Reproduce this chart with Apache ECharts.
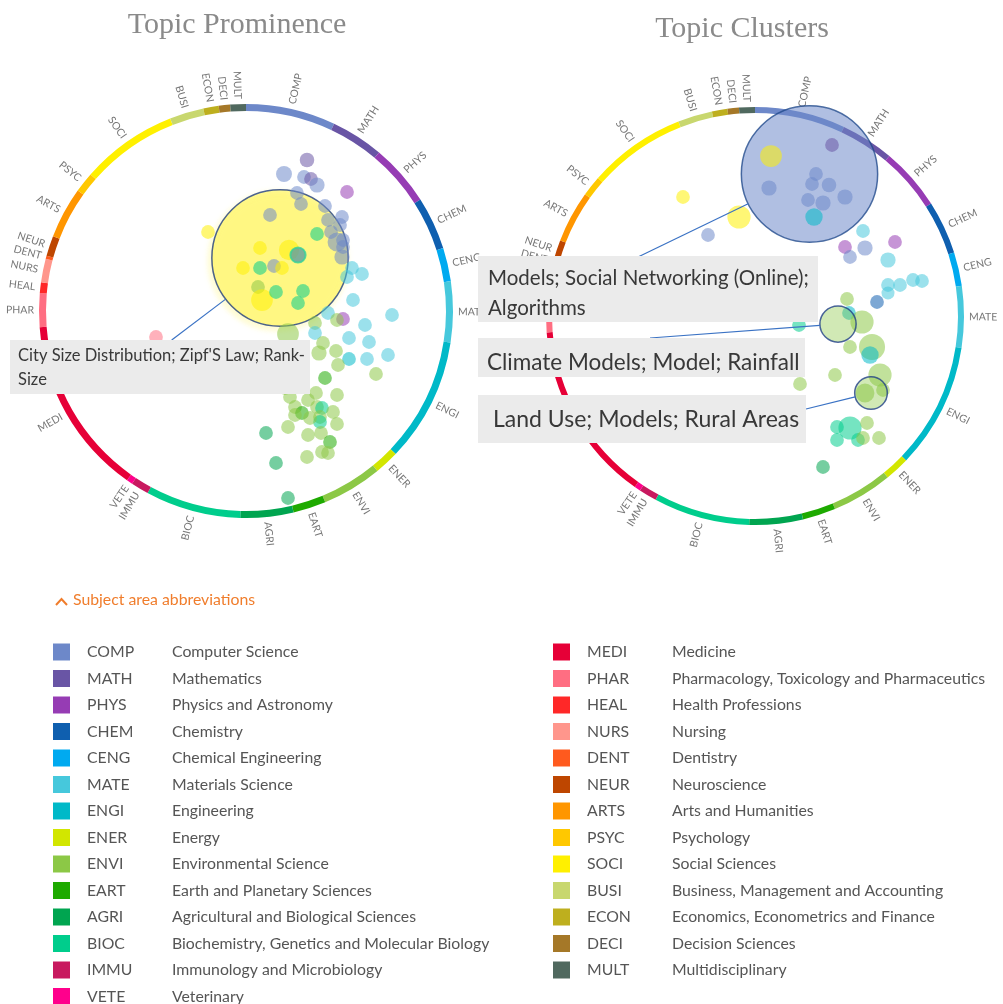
<!DOCTYPE html>
<html><head><meta charset="utf-8">
<script src="https://cdn.jsdelivr.net/npm/echarts@6/dist/echarts.min.js"></script>
<style>html,body{margin:0;padding:0;background:#fff}#c{width:1003px;height:1004px}</style>
</head><body><div id="c"></div>
<script>
// ---------------- data ----------------
const subjects = ['COMP','MATH','PHYS','CHEM','CENG','MATE','ENGI','ENER','ENVI','EART','AGRI','BIOC','IMMU','VETE',
  'MEDI','PHAR','HEAL','NURS','DENT','NEUR','ARTS','PSYC','SOCI','BUSI','ECON','DECI','MULT'];
const subjectNames = ['Computer Science','Mathematics','Physics and Astronomy','Chemistry','Chemical Engineering',
  'Materials Science','Engineering','Energy','Environmental Science','Earth and Planetary Sciences',
  'Agricultural and Biological Sciences','Biochemistry, Genetics and Molecular Biology','Immunology and Microbiology','Veterinary',
  'Medicine','Pharmacology, Toxicology and Pharmaceutics','Health Professions','Nursing','Dentistry','Neuroscience',
  'Arts and Humanities','Psychology','Social Sciences','Business, Management and Accounting',
  'Economics, Econometrics and Finance','Decision Sciences','Multidisciplinary'];
const subjectColors = ['#6d88c9','#6955a5','#963cb4','#0f5faf','#00aaf0','#46c8dc','#00b9c8','#d2e600','#8cc846','#1eaa00',
  '#00a550','#00cd8c','#c8195f','#ff008c','#e60037','#ff6e82','#ff2828','#ff968c','#ff5a1e','#be4600','#ff9600','#ffc800',
  '#fff000','#c8d76e','#beaf1e','#a57828','#50695f'];
// share of the outer ring (degrees)
const arcShares = [25.2,14.8,17.4,14.9,9.4,17.1,34.9,6.9,16.9,9.2,14.9,26.8,5.0,1.7,
  50.4,9.5,3.0,6.6,0.9,5.7,14.4,5.7,27.2,9.6,4.3,3.2,4.4];

// bubbles: [x, y, prominence, subject]
const prominenceFocus = [[34,53,9.4,'SOCI']];
const prominenceSelected = [[52,56,1.05,'ENGI']];
const prominenceBubbles = [
 [61,151,1.0,'MATH'],[38,137,1.1,'COMP'],[58,134,0.95,'COMP'],[65,132,0.95,'MATH'],[71,126,1.05,'COMP'],
 [101,119,0.95,'PHYS'],[51,118,0.95,'COMP'],[55,107,0.95,'COMP'],[24,96,0.95,'COMP'],[79,105,0.95,'COMP'],
 [96,94,0.95,'COMP'],[82,91,0.95,'COMP'],[94,86,0.95,'COMP'],[71,77,0.95,'BIOC'],[85,79,0.95,'COMP'],
 [91,69,1.3,'COMP'],[97,71,0.95,'COMP'],[96,54,1.05,'COMP'],[97,64,0.95,'COMP'],[-38,79,0.95,'SOCI'],
 [14,63,0.95,'SOCI'],[43,61,1.4,'SOCI'],[-3,43,0.95,'SOCI'],[14,43,0.95,'BIOC'],[28,45,0.95,'COMP'],
 [36,43,0.95,'SOCI'],[12,24,0.95,'ENVI'],[16,11,1.5,'SOCI'],[30,19,0.95,'BIOC'],[57,20,0.95,'BIOC'],
 [52,8,0.95,'BIOC'],[106,43,0.95,'MATE'],[116,37,0.95,'MATE'],[101,34,0.95,'MATE'],[107,11,0.95,'MATE'],
 [146,-4,0.95,'MATE'],[97,-8,0.95,'PHYS'],[82,-2,0.95,'MATE'],[91,-9,0.95,'ENVI'],[69,-12,0.95,'ENVI'],
 [42,-23,1.5,'ENVI'],[119,-14,0.95,'MATE'],[69,-22,0.95,'MATE'],[103,-27,0.95,'MATE'],[123,-31,0.95,'MATE'],
 [77,-32,0.95,'ENVI'],[73,-42,1.05,'ENVI'],[90,-40,0.95,'ENVI'],[103,-48,0.95,'ENGI'],[121,-48,0.95,'MATE'],
 [142,-44,0.95,'MATE'],[130,-63,0.95,'ENVI'],[92,-54,0.95,'ENVI'],[79,-67,0.95,'EART'],[70,-82,0.95,'ENVI'],
 [91,-84,0.95,'ENVI'],[44,-86,0.95,'ENVI'],[39,-77,0.95,'ENVI'],[49,-96,0.95,'ENVI'],[56,-102,0.95,'EART'],
 [62,-89,0.95,'ENVI'],[71,-96,0.95,'ENVI'],[76,-97,0.95,'BIOC'],[87,-101,0.95,'ENVI'],[74,-106,0.95,'ENVI'],
 [74,-111,0.95,'BIOC'],[64,-107,0.95,'ENVI'],[49,-104,0.95,'ENVI'],[42,-116,0.95,'ENVI'],[91,-113,0.95,'ENVI'],
 [62,-124,0.95,'ENVI'],[75,-122,0.95,'ENVI'],[84,-131,0.95,'EART'],[76,-141,0.95,'ENVI'],[82,-142,0.95,'ENVI'],
 [61,-146,0.95,'ENVI'],[20,-122,0.95,'AGRI'],[30,-152,0.95,'AGRI'],[42,-187,0.95,'AGRI'],[-90,-26,0.95,'PHAR']
];
const clusterFocus = [[54.5,142,9.4,'COMP'],[83,-8,2.5,'ENVI'],[116,-77,2.25,'ENVI']];
const clusterBubbles = [
 [16,160,1.5,'SOCI'],[77,171,0.95,'MATH'],[61,142,0.95,'COMP'],[57,132,0.95,'COMP'],[74,131,1.0,'COMP'],
 [14,128,1.05,'COMP'],[53,116,0.95,'COMP'],[68,113,1.05,'COMP'],[90,119,1.05,'COMP'],[59,99,1.2,'ENGI'],
 [-72,119,0.95,'SOCI'],[-16,99,1.6,'SOCI'],[-47,81,0.95,'COMP'],[108,85,0.95,'MATE'],[90,69,0.95,'PHYS'],
 [110,68,1.05,'COMP'],[95,59,0.95,'COMP'],[140,74,0.95,'PHYS'],[133,56,1.05,'MATE'],[133,31,0.95,'MATE'],
 [145,31,0.95,'MATE'],[158,36,0.95,'MATE'],[167,35,0.95,'MATE'],[133,23,0.9,'MATE'],[122,14,0.95,'CHEM'],
 [92,17,0.95,'ENVI'],[94,3,0.95,'ENGI'],[107,-6,1.6,'ENVI'],[95,-31,0.95,'ENVI'],[117,-31,1.8,'ENVI'],
 [115,-39,1.2,'ENGI'],[44,-9,0.95,'BIOC'],[80,-59,0.95,'ENVI'],[45,-68,0.95,'ENVI'],[125,-59,1.6,'ENVI'],
 [110,-77,1.3,'ENVI'],[128,-74,0.95,'ENVI'],[82,-111,0.95,'BIOC'],[95,-112,1.6,'BIOC'],[112,-107,0.95,'ENVI'],
 [82,-124,0.95,'BIOC'],[103,-124,0.95,'BIOC'],[108,-122,0.95,'ENVI'],[124,-122,0.95,'ENVI'],[68,-151,0.95,'AGRI']
];
const titles = ['Topic Prominence','Topic Clusters'];
const prominenceCallout = ["City Size Distribution; Zipf'S Law; Rank-\nSize"];
const clusterCallouts = ['Models; Social Networking (Online);\nAlgorithms','Climate Models; Model; Rainfall','Land Use; Models; Rural Areas'];
const legendHeading = 'Subject area abbreviations';

// ---------------- chart ----------------
const chart = echarts.init(document.getElementById('c'));
const FONT = 'Lato';
const SIZE_UNIT = 14.5;
const colorOf = {}, nameOf = {};
subjects.forEach((s,i)=>{colorOf[s]=subjectColors[i]; nameOf[s]=subjectNames[i];});
function rgba(hex,a){const n=parseInt(hex.slice(1),16);return 'rgba('+(n>>16&255)+','+(n>>8&255)+','+(n&255)+','+a+')';}
function bubbleData(list, alpha, extra){
  return list.map(b=>({value:[b[0],b[1],b[2]], itemStyle:Object.assign({color:rgba(colorOf[b[3]],alpha)}, extra||{})}));
}
function ring(center, radius){
  return {type:'pie', center, radius, startAngle:90, silent:true, z:1, avoidLabelOverlap:false,
    data: subjects.map((s,i)=>({name:s, value:arcShares[i], itemStyle:{color:subjectColors[i]}})),
    label:{show:true, position:'outside', rotate:'radial', distanceToLabelLine:0, fontSize:10.5, color:'#777', fontFamily:FONT},
    labelLine:{show:false, length:5, length2:0}, emphasis:{disabled:true}};
}
function bubbles(g, data, z){
  return {type:'scatter', xAxisIndex:g, yAxisIndex:g, data, z, symbolSize:v=>v[2]*SIZE_UNIT, silent:true, emphasis:{disabled:true}};
}
const axisCommon = {type:'value', min:-200, max:200, show:false};
const legendCommon = {orient:'vertical', icon:'rect', itemWidth:17, itemHeight:17, itemGap:9.5, padding:0, height:400,
  selectedMode:false,
  formatter: n => '{a|'+n+'}{b|'+nameOf[n]+'}',
  textStyle:{rich:{
    a:{width:85, padding:[0,0,0,12], fontSize:15.8, lineHeight:17, color:'#555', fontFamily:FONT},
    b:{fontSize:15.8, lineHeight:17, color:'#555', fontFamily:FONT}}}};

const option = {
  animation:false,
  grid:[{left:46, top:111, width:400, height:400},{left:555, top:116, width:400, height:400}],
  xAxis:[Object.assign({gridIndex:0},axisCommon),Object.assign({gridIndex:1},axisCommon)],
  yAxis:[Object.assign({gridIndex:0},axisCommon),Object.assign({gridIndex:1},axisCommon)],
  legend:[Object.assign({data:subjects.slice(0,14), left:53, top:643.5}, legendCommon),
          Object.assign({data:subjects.slice(14), left:553, top:643.5}, legendCommon)],
  series:[
    ring([246,311],[200,207]),
    ring([755,316],[203,209]),
    bubbles(0, bubbleData(prominenceFocus,0.48,{borderColor:'#1f3c7a',borderWidth:1.5,
      shadowBlur:6, shadowOffsetX:-2, shadowOffsetY:3, shadowColor:'rgba(255,240,0,0.45)'}), 2),
    bubbles(0, bubbleData(prominenceBubbles,0.68), 3),
    bubbles(0, prominenceSelected.map(b=>({value:[b[0],b[1],b[2]], itemStyle:{color:'#5f9ea0',borderColor:'#35d39a',borderWidth:2}})), 4),
    bubbles(1, bubbleData(clusterFocus.slice(0,1),0.68,{borderColor:'#214a8c',borderWidth:1.5}), 2),
    bubbles(1, bubbleData(clusterBubbles,0.68), 3),
    bubbles(1, bubbleData(clusterFocus.slice(1),0.5,{borderColor:'#1f3f86',borderWidth:1.5}), 4)
  ]
};
chart.setOption(option);

// ---- annotations (titles, callout boxes, leader lines) ----
function edgePoint(g, b, toward){
  const c = chart.convertToPixel({gridIndex:g},[b[0],b[1]]);
  const r = b[2]*SIZE_UNIT/2;
  const dx = toward[0]-c[0], dy = toward[1]-c[1], d = Math.hypot(dx,dy);
  return [c[0]+dx/d*r, c[1]+dy/d*r];
}
function box(x,y,w,h,text,tx,ty,fs,lh){
  return [
    {type:'rect', z:100, shape:{x,y,width:w,height:h}, style:{fill:'#ebebeb'}},
    {type:'text', z:101, x:tx, y:ty, style:{text, font:fs+'px '+FONT, lineHeight:lh, fill:'#383838', textVerticalAlign:'top'}}
  ];
}
function leader(anchor, g, b){
  const p = edgePoint(g,b,anchor);
  return {type:'line', z:99, shape:{x1:anchor[0],y1:anchor[1],x2:p[0],y2:p[1]}, style:{stroke:'#3a72c4', lineWidth:1.2}};
}
const graphics = [
  {type:'text', x:237, y:25, style:{text:titles[0], font:'30px "Liberation Serif"', fill:'#8a8a8a', textAlign:'center', textVerticalAlign:'middle'}},
  {type:'text', x:742, y:29, style:{text:titles[1], font:'30px "Liberation Serif"', fill:'#8a8a8a', textAlign:'center', textVerticalAlign:'middle'}},
  {type:'polyline', shape:{points:[[56,605],[61.5,599],[67,605]]}, style:{stroke:'#f07d2c', lineWidth:2, fill:null}},
  {type:'text', x:73, y:600, style:{text:legendHeading, font:'15.8px '+FONT, fill:'#f07d2c', textVerticalAlign:'middle'}},
  leader([171.7,340], 0, prominenceFocus[0]),
  leader([638,257], 1, clusterFocus[0]),
  leader([650,338], 1, clusterFocus[1]),
  leader([806,409], 1, clusterFocus[2]),
  ...box(10,340,300,54, prominenceCallout[0], 18,344, 16.5, 24),
  ...box(478,256,340,66, clusterCallouts[0], 488,263.5, 20.5, 30),
  ...box(478,338,327,39, clusterCallouts[1], 487,348, 22.5, 30),
  ...box(478,395,328,48, clusterCallouts[2], 493,405, 23, 30)
];
chart.setOption({graphic: graphics});
</script></body></html>
